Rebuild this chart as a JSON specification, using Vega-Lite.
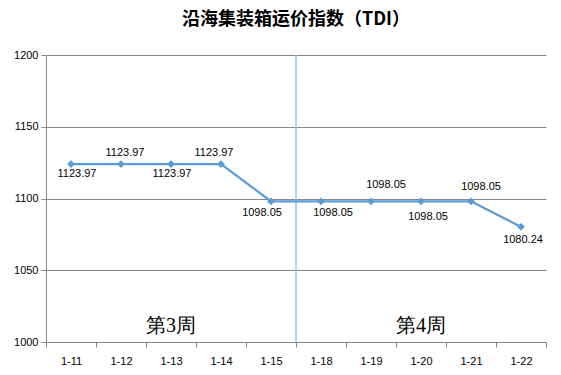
{
  "$schema": "https://vega.github.io/schema/vega-lite/v6.json",
  "width": 500,
  "height": 287,
  "autosize": {"type": "none"},
  "padding": {"left": 46, "top": 55, "right": 15, "bottom": 33},
  "background": "white",
  "config": {
    "view": {"stroke": null},
    "font": "Liberation Sans"
  },
  "title": {
    "text": "沿海集装箱运价指数（TDI）",
    "font": "Noto Sans CJK SC",
    "fontSize": 18,
    "fontWeight": "bold",
    "color": "#000000",
    "anchor": "middle",
    "dx": 0,
    "offset": 20
  },
  "datasets": {
    "tdi": [
      {"d": "1-11", "v": 1123.97},
      {"d": "1-12", "v": 1123.97},
      {"d": "1-13", "v": 1123.97},
      {"d": "1-14", "v": 1123.97},
      {"d": "1-15", "v": 1098.05},
      {"d": "1-18", "v": 1098.05},
      {"d": "1-19", "v": 1098.05},
      {"d": "1-20", "v": 1098.05},
      {"d": "1-21", "v": 1098.05},
      {"d": "1-22", "v": 1080.24}
    ],
    "weeks": [
      {"d": "1-13", "v": 1011, "t": "第3周"},
      {"d": "1-20", "v": 1011, "t": "第4周"}
    ]
  },
  "encoding": {
    "x": {
      "field": "d",
      "type": "nominal",
      "sort": null,
      "scale": {"domain": ["1-11","1-12","1-13","1-14","1-15","1-18","1-19","1-20","1-21","1-22"], "paddingInner": 0, "paddingOuter": 0},
      "axis": {
        "title": null,
        "labelAngle": 0,
        "labelFontSize": 11,
        "labelColor": "#000000",
        "labelPadding": 8,
        "domainColor": "#868686",
        "tickColor": "#868686",
        "tickBand": "extent",
        "tickSize": 5,
        "grid": false
      }
    },
    "y": {
      "field": "v",
      "type": "quantitative",
      "scale": {"domain": [1000, 1200], "nice": false, "zero": false},
      "axis": {
        "title": null,
        "values": [1000, 1050, 1100, 1150, 1200],
        "format": "d",
        "labelFontSize": 11,
        "labelColor": "#000000",
        "labelPadding": 3,
        "domainColor": "#868686",
        "tickColor": "#868686",
        "tickSize": 5,
        "gridColor": "#868686",
        "gridOpacity": 1
      }
    }
  },
  "layer": [
    {
      "data": {"values": [{"d": "1-15"}]},
      "mark": {"type": "rule", "color": "#9DC3E6", "strokeWidth": 1.5},
      "encoding": {
        "x": {"field": "d", "type": "nominal", "bandPosition": 1},
        "y": null
      }
    },
    {
      "data": {"name": "tdi"},
      "mark": {"type": "line", "color": "#5B9BD5", "strokeWidth": 2.25}
    },
    {
      "data": {"name": "tdi"},
      "mark": {"type": "point", "shape": "diamond", "filled": true, "color": "#5B9BD5", "size": 60, "opacity": 1}
    },
    {
      "data": {"name": "tdi"},
      "transform": [{"filter": "datum.d == '1-11'"}],
      "mark": {"type": "text", "fontSize": 11, "color": "#000000", "dx": 6, "dy": 10},
      "encoding": {"text": {"field": "v", "type": "quantitative", "format": ".2f"}}
    },
    {
      "data": {"name": "tdi"},
      "transform": [{"filter": "datum.d == '1-12'"}],
      "mark": {"type": "text", "fontSize": 11, "color": "#000000", "dx": 4, "dy": -11},
      "encoding": {"text": {"field": "v", "type": "quantitative", "format": ".2f"}}
    },
    {
      "data": {"name": "tdi"},
      "transform": [{"filter": "datum.d == '1-13'"}],
      "mark": {"type": "text", "fontSize": 11, "color": "#000000", "dx": 1, "dy": 10},
      "encoding": {"text": {"field": "v", "type": "quantitative", "format": ".2f"}}
    },
    {
      "data": {"name": "tdi"},
      "transform": [{"filter": "datum.d == '1-14'"}],
      "mark": {"type": "text", "fontSize": 11, "color": "#000000", "dx": -7, "dy": -11},
      "encoding": {"text": {"field": "v", "type": "quantitative", "format": ".2f"}}
    },
    {
      "data": {"name": "tdi"},
      "transform": [{"filter": "datum.d == '1-15'"}],
      "mark": {"type": "text", "fontSize": 11, "color": "#000000", "dx": -9, "dy": 12},
      "encoding": {"text": {"field": "v", "type": "quantitative", "format": ".2f"}}
    },
    {
      "data": {"name": "tdi"},
      "transform": [{"filter": "datum.d == '1-18'"}],
      "mark": {"type": "text", "fontSize": 11, "color": "#000000", "dx": 12, "dy": 12},
      "encoding": {"text": {"field": "v", "type": "quantitative", "format": ".2f"}}
    },
    {
      "data": {"name": "tdi"},
      "transform": [{"filter": "datum.d == '1-19'"}],
      "mark": {"type": "text", "fontSize": 11, "color": "#000000", "dx": 15, "dy": -16},
      "encoding": {"text": {"field": "v", "type": "quantitative", "format": ".2f"}}
    },
    {
      "data": {"name": "tdi"},
      "transform": [{"filter": "datum.d == '1-20'"}],
      "mark": {"type": "text", "fontSize": 11, "color": "#000000", "dx": 7, "dy": 16},
      "encoding": {"text": {"field": "v", "type": "quantitative", "format": ".2f"}}
    },
    {
      "data": {"name": "tdi"},
      "transform": [{"filter": "datum.d == '1-21'"}],
      "mark": {"type": "text", "fontSize": 11, "color": "#000000", "dx": 10, "dy": -14},
      "encoding": {"text": {"field": "v", "type": "quantitative", "format": ".2f"}}
    },
    {
      "data": {"name": "tdi"},
      "transform": [{"filter": "datum.d == '1-22'"}],
      "mark": {"type": "text", "fontSize": 11, "color": "#000000", "dx": 2, "dy": 13},
      "encoding": {"text": {"field": "v", "type": "quantitative", "format": ".2f"}}
    },
    {
      "data": {"name": "weeks"},
      "mark": {"type": "text", "fontSize": 20, "font": "Liberation Serif", "color": "#000000"},
      "encoding": {"text": {"field": "t", "type": "nominal"}}
    }
  ]
}
